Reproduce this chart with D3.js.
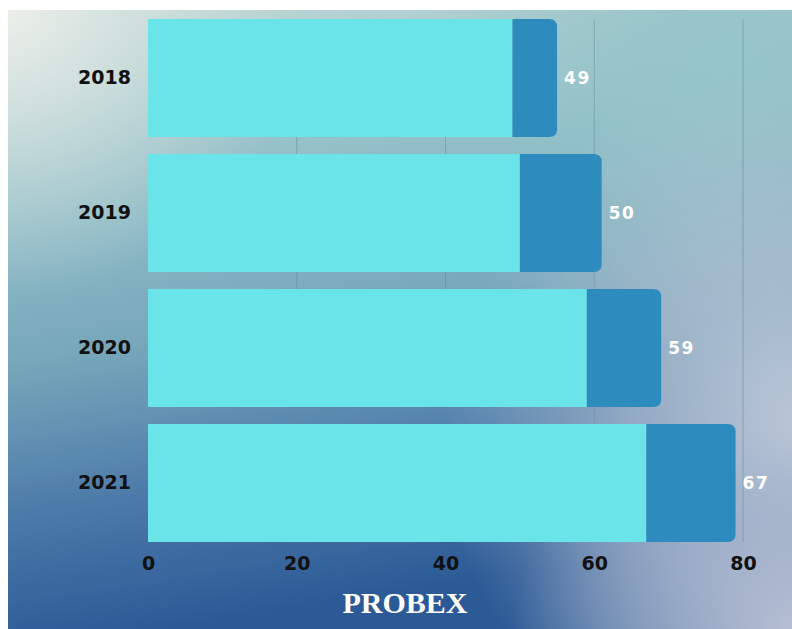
<!DOCTYPE html>
<html>
<head>
<meta charset="utf-8">
<script src="https://cdn.jsdelivr.net/npm/d3@7/dist/d3.min.js"></script>
<style>
  html, body { margin: 0; padding: 0; background: #ffffff; }
  svg { display: block; }
</style>
</head>
<body>
<svg id="chart" width="792" height="629"></svg>
<script>
const years = ["2018", "2019", "2020", "2021"];
const baseValues = [49, 50, 59, 67];
const extraValues = [6, 11, 10, 12];
const valueLabels = ["49", "50", "59", "67"];
const xTicks = [0, 20, 40, 60, 80];
const axisTitle = "PROBEX";

const svg = d3.select("#chart");
const W = 792, H = 629;
const defs = svg.append("defs");

// background gradients
const lg = defs.append("linearGradient").attr("id", "bgLin")
  .attr("x1", 0).attr("y1", 0).attr("x2", 0.2).attr("y2", 1);
[["0", "#c2d8d6"], ["0.3", "#93bfc7"], ["0.55", "#78a7bb"], ["0.8", "#4a78a8"], ["1", "#2c5a96"]]
  .forEach(([o, c]) => lg.append("stop").attr("offset", o).attr("stop-color", c));

const rg1 = defs.append("radialGradient").attr("id", "bgTL")
  .attr("gradientUnits", "userSpaceOnUse").attr("cx", 0).attr("cy", 0).attr("r", 300);
rg1.append("stop").attr("offset", "0").attr("stop-color", "#eef0ea").attr("stop-opacity", 1);
rg1.append("stop").attr("offset", "0.45").attr("stop-color", "#dfe8e4").attr("stop-opacity", 0.6);
rg1.append("stop").attr("offset", "1").attr("stop-color", "#cfe0e0").attr("stop-opacity", 0);

const rg2 = defs.append("radialGradient").attr("id", "bgR")
  .attr("gradientUnits", "userSpaceOnUse").attr("cx", 800).attr("cy", 430).attr("r", 360);
rg2.append("stop").attr("offset", "0").attr("stop-color", "#cbd4de").attr("stop-opacity", 0.95);
rg2.append("stop").attr("offset", "0.5").attr("stop-color", "#b8c4d2").attr("stop-opacity", 0.6);
rg2.append("stop").attr("offset", "1").attr("stop-color", "#b0bfd0").attr("stop-opacity", 0);

const rg4 = defs.append("radialGradient").attr("id", "bgBR")
  .attr("gradientUnits", "userSpaceOnUse").attr("cx", 792).attr("cy", 629).attr("r", 280);
rg4.append("stop").attr("offset", "0").attr("stop-color", "#b6bed2").attr("stop-opacity", 1);
rg4.append("stop").attr("offset", "0.5").attr("stop-color", "#a6b4cc").attr("stop-opacity", 0.6);
rg4.append("stop").attr("offset", "1").attr("stop-color", "#a6b4cc").attr("stop-opacity", 0);

const rg3 = defs.append("radialGradient").attr("id", "bgTR")
  .attr("gradientUnits", "userSpaceOnUse").attr("cx", 720).attr("cy", 60).attr("r", 300);
rg3.append("stop").attr("offset", "0").attr("stop-color", "#96c5ca").attr("stop-opacity", 1);
rg3.append("stop").attr("offset", "1").attr("stop-color", "#96c5ca").attr("stop-opacity", 0);

const bgX = 8, bgY = 10;
["bgLin", "bgTR", "bgR", "bgBR", "bgTL"].forEach(id =>
  svg.append("rect").attr("x", bgX).attr("y", bgY).attr("width", W - bgX).attr("height", H - bgY)
    .attr("fill", `url(#${id})`));

// scales
const x = d3.scaleLinear().domain([0, 80]).range([148, 743]);
const y = d3.scaleBand().domain(years).range([19, 542]).paddingInner(0.126).paddingOuter(0);

// gridlines
svg.append("g").selectAll("line").data(xTicks.filter(t => t > 0)).join("line")
  .attr("x1", d => x(d)).attr("x2", d => x(d))
  .attr("y1", y.range()[0]).attr("y2", y.range()[1])
  .attr("stroke", "#5f8798").attr("stroke-opacity", 0.5).attr("stroke-width", 1);

const rows = years.map((yr, i) => ({ yr, base: baseValues[i], extra: extraValues[i], label: valueLabels[i] }));

// base bars
svg.append("g").selectAll("rect").data(rows).join("rect")
  .attr("x", x(0)).attr("y", d => y(d.yr))
  .attr("width", d => x(d.base) - x(0)).attr("height", y.bandwidth())
  .attr("fill", "#6ae4e9");

// extra segments with rounded right corners
const r = 8;
svg.append("g").selectAll("path").data(rows).join("path")
  .attr("d", d => {
    const x0 = x(d.base), x1 = x(d.base + d.extra), y0 = y(d.yr), y1 = y0 + y.bandwidth();
    return `M${x0},${y0}H${x1 - r}Q${x1},${y0} ${x1},${y0 + r}V${y1 - r}Q${x1},${y1} ${x1 - r},${y1}H${x0}Z`;
  })
  .attr("fill", "#2e8bbd");

// value labels
svg.append("g").selectAll("text").data(rows).join("text")
  .attr("x", d => x(d.base + d.extra) + 7)
  .attr("y", d => y(d.yr) + y.bandwidth() / 2)
  .attr("dy", "0.35em")
  .attr("font-family", "'DejaVu Sans', sans-serif")
  .attr("font-weight", "bold")
  .attr("font-size", 17)
  .attr("letter-spacing", 1.5)
  .attr("fill", "#ffffff")
  .text(d => d.label);

// y axis
const yAxis = svg.append("g").attr("transform", `translate(131,0)`)
  .call(d3.axisLeft(y).tickSize(0).tickPadding(0));
yAxis.select(".domain").remove();
yAxis.selectAll("text")
  .attr("font-family", "'DejaVu Sans', sans-serif")
  .attr("font-weight", "bold")
  .attr("font-size", 19)
  .attr("fill", "#111111");

// x axis
const xAxis = svg.append("g").attr("transform", `translate(0,552)`)
  .call(d3.axisBottom(x).tickValues(xTicks).tickSize(0).tickPadding(0).tickFormat(d3.format("d")));
xAxis.select(".domain").remove();
xAxis.selectAll("text")
  .attr("dy", "0.95em")
  .attr("font-family", "'DejaVu Sans', sans-serif")
  .attr("font-weight", "bold")
  .attr("font-size", 19)
  .attr("fill", "#111111");

// axis title
svg.append("text")
  .attr("x", 405).attr("y", 613)
  .attr("text-anchor", "middle")
  .attr("font-family", "'Liberation Serif', 'Times New Roman', serif")
  .attr("font-weight", "bold")
  .attr("font-size", 30)
  .attr("fill", "#ffffff")
  .text(axisTitle);
</script>
</body>
</html>
